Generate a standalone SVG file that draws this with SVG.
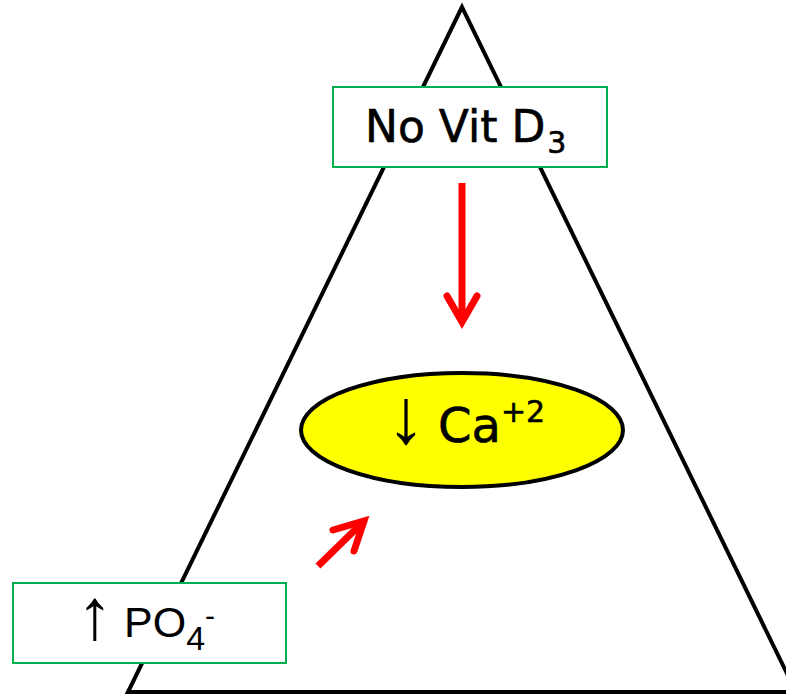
<svg xmlns="http://www.w3.org/2000/svg" width="786" height="695" viewBox="0 0 786 695">
<defs>
<style>
.box{fill:#fff;stroke:#00B050;stroke-width:2}
.comic{font-family:"DejaVu Sans",sans-serif;fill:#000;stroke:#000;stroke-width:0.6}
.plain{font-family:"Liberation Sans",Arial,sans-serif;fill:#000}
.red{fill:none;stroke:#FF0000;stroke-width:7}
</style>
</defs>
<polygon points="462,7 128,692 796,692" fill="none" stroke="#000" stroke-width="4" stroke-linejoin="miter"/>
<g id="connectors">
<line class="red" x1="462" y1="183" x2="462" y2="320" stroke-linecap="butt"/>
<polyline class="red" points="447,296 462,322 477,296" stroke-linecap="round" stroke-linejoin="miter"/>
<line class="red" x1="318" y1="566" x2="361" y2="524" stroke-linecap="butt"/>
<polyline class="red" points="333,530 364,521 354,551" stroke-linecap="round" stroke-linejoin="miter"/>
</g>
<g id="node-vitd">
<rect class="box" x="333" y="87" width="274" height="80"/>
<text class="comic" x="365" y="142" font-size="44">No Vit D<tspan font-size="30" dx="2" dy="11">3</tspan></text>
</g>
<g id="node-ca">
<ellipse cx="462" cy="430" rx="161" ry="57" fill="#FFFF00" stroke="#000" stroke-width="4"/>
<text class="plain" x="406" y="443" font-size="78" text-anchor="middle">↓</text>
<text class="comic" x="438" y="442" font-size="48">Ca<tspan font-size="30" dy="-20">+2</tspan></text>
</g>
<g id="node-po4">
<rect class="box" x="13" y="583" width="273" height="80"/>
<text class="plain" x="95" y="639" font-size="72" text-anchor="middle">↑</text>
<text class="plain" x="124" y="637" font-size="43">PO<tspan font-size="34" dy="13">4</tspan><tspan font-size="30" dy="-24">-</tspan></text>
</g>
</svg>
